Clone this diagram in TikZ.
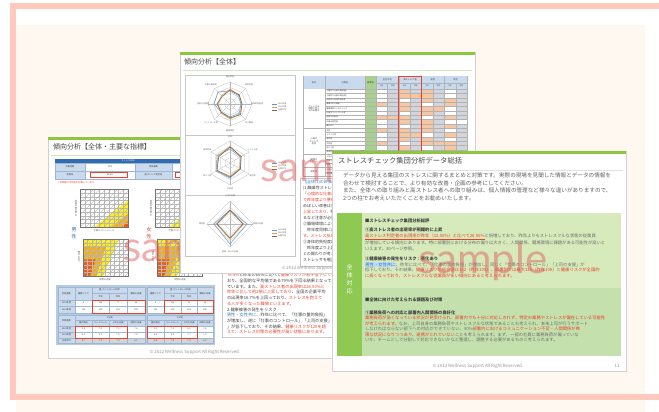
\documentclass[tikz,border=0pt]{standalone}
\usepackage{fontspec}
\setmainfont{Noto Sans CJK JP}
\newfontfamily\wmfont{Lato}
\usetikzlibrary{positioning}
\setlength{\fboxsep}{0.4pt}

\definecolor{framepink}{HTML}{FFCABD}
\definecolor{cream}{HTML}{FFF8F1}
\definecolor{pagegreen}{HTML}{8DC63F}
\definecolor{ruleline}{HTML}{D3E6BE}
\definecolor{boxlight}{HTML}{D7EABB}
\definecolor{boxdark}{HTML}{C4E1AD}
\definecolor{colgreen}{HTML}{8EC952}
\definecolor{txtgray}{HTML}{6E6E6E}
\definecolor{txtred}{HTML}{E8412C}
\definecolor{txtblue}{HTML}{2F75C0}
\definecolor{hlblue}{HTML}{BFDDF5}
\definecolor{hdrblue}{HTML}{C9DAEE}
\definecolor{bandblue}{HTML}{2E6DB4}
\definecolor{tabedge}{HTML}{9FB6CF}
\definecolor{tabback}{HTML}{B7CBE0}
\definecolor{cellw}{HTML}{FFFFFF}
\definecolor{cellg}{HTML}{D3D5DC}
\definecolor{cello}{HTML}{F7C6A2}
\definecolor{basegreen}{HTML}{A9D18E}
\definecolor{radblue}{HTML}{5B9BD5}
\definecolor{radoran}{HTML}{ED9E45}
\definecolor{radbrown}{HTML}{7A6652}
\definecolor{chyel}{HTML}{FFEF1A}
\definecolor{choran}{HTML}{FFB000}
\definecolor{chred}{HTML}{EE5A12}
\definecolor{wmred}{HTML}{E06060}

% stress distribution chart: grid and 45 degree lines
\newcommand{\chartgrid}[4]{%
  \begin{scope}
    \clip (#1,#2) rectangle (#3,#4);
    \foreach \k in {1,...,9}{
      \draw[gridline] ({#1+\k*(#3-#1)/10},#2) -- ({#1+\k*(#3-#1)/10},#4);
      \draw[gridline] (#1,{#2+\k*(#4-#2)/10}) -- (#3,{#2+\k*(#4-#2)/10});
    }
    \foreach \k in {-48,-42,...,48}
      \draw[diagline] ({#1+\k},#4) -- ++(60,-60);
  \end{scope}
  \draw[chartframe] (#1,#2) rectangle (#3,#4);}
% coloured bands, lower right corner
\newcommand{\fillbr}[4]{%
  \fill[chyel] (#3,{#2+0.3*(#4-#2)}) -- (#3,#4) -- ({#1+0.3*(#3-#1)},#4) -- cycle;
  \fill[choran] (#3,{#2+0.65*(#4-#2)}) -- (#3,#4) -- ({#1+0.65*(#3-#1)},#4) -- cycle;
  \fill[chred] (#3,{#2+0.87*(#4-#2)}) -- (#3,#4) -- ({#1+0.87*(#3-#1)},#4) -- cycle;}
% coloured bands, left side
\newcommand{\fillbl}[4]{%
  \fill[chyel] (#1,#2) -- ({#1+0.8*(#3-#1)},#2) -- ({#1+0.45*(#3-#1)},#4) -- (#1,#4) -- cycle;
  \fill[choran] (#1,{#2+0.22*(#4-#2)}) -- ({#1+0.5*(#3-#1)},{#2+0.22*(#4-#2)}) -- ({#1+0.3*(#3-#1)},#4) -- (#1,#4) -- cycle;
  \fill[chred] (#1,{#2+0.55*(#4-#2)}) -- ({#1+0.28*(#3-#1)},{#2+0.55*(#4-#2)}) -- ({#1+0.16*(#3-#1)},#4) -- (#1,#4) -- cycle;}
% radar web: centre x, centre y, axes, radius
\newcommand{\radarweb}[4]{%
  \begin{scope}[shift={(#1,#2)}]
    \foreach \s in {0.25,0.5,0.75,1}
      \draw[webline] (-90:{\s*#4}) \foreach \i in {1,...,#3}{ -- ({-90+\i*360/#3}:{\s*#4})};
    \foreach \i in {1,...,#3}
      \draw[webline] (0,0) -- ({-90+\i*360/#3}:#4);
  \end{scope}}
% radar data: centre x, centre y, axes, style, first value, other values
\newcommand{\radarline}[6]{%
  \draw[#4,shift={(#1,#2)}] (-90:#5) \foreach \v [count=\i] in {#6}{ -- ({-90+\i*360/#3}:\v)} -- cycle;}
% table cell with text
\newcommand{\tcell}[6]{%
  \draw[tabcell,fill=#5] (#1,#2) rectangle (#3,#4);
  \node[tabfont] (tc-#1-#2) at ({(#1+#3)/2},{(#2+#4)/2}) {#6};}

\begin{document}
\begin{tikzpicture}[x=1pt,y=-1pt,inner sep=0pt,outer sep=0pt,
  sheet/.style={fill=white,draw=black!18,line width=0.7pt},
  greenbar/.style={fill=pagegreen},
  titlerule/.style={draw=ruleline,line width=0.9pt},
  pagetitle/.style={anchor=west,font=\fontsize{7}{7}\selectfont,text=black!72},
  footer/.style={font=\fontsize{4.4}{4.4}\selectfont,text=black!42},
  watermark/.style={anchor=base west,font=\wmfont\fontsize{42}{42}\selectfont,text=wmred,text opacity=0.5},
  gridline/.style={draw=black!28,line width=0.2pt},
  diagline/.style={draw=black!35,line width=0.2pt},
  chartframe/.style={draw=black!55,line width=0.3pt},
  webline/.style={draw=black!28,line width=0.25pt},
  rlineA/.style={draw=radblue,line width=0.5pt},
  rlineB/.style={draw=radoran,line width=0.5pt},
  rlineC/.style={draw=radbrown,line width=0.6pt},
  tabcell/.style={draw=tabedge,line width=0.25pt},
  tabline/.style={draw=black!30,line width=0.2pt},
  redbox/.style={draw=txtred,line width=0.7pt},
  tiny/.style={font=\fontsize{2.3}{2.8}\selectfont,text=black!60},
  tabfont/.style={font=\fontsize{2.2}{2.2}\selectfont,text=black!75},
  leadtext/.style={anchor=north west,align=left,font=\fontsize{5.6}{7.5}\selectfont,text=black!62},
  boxtext/.style={anchor=north west,align=left,font=\fontsize{4.3}{5.5}\selectfont,text=txtgray},
  sidetext/.style={anchor=north west,align=left,font=\fontsize{4.2}{5.7}\selectfont,text=black!75}]

\useasboundingbox (0,0) rectangle (659,412);
\fill[white] (0,0) rectangle (659,412);
\fill[cream] (16,25) rectangle (645,412);
\fill[framepink] (10,3) rectangle (659,9);
\fill[framepink] (10,3) rectangle (16,400);
\fill[framepink] (10,394) rectangle (659,400);

%% page 1: main indicators
\draw[sheet] (48,137) rectangle (342,358);
\fill[greenbar] (48,137) rectangle (342,140);
\node[pagetitle] (title1) at (53,147) {傾向分析【全体・主要な指標】};
\draw[titlerule] (51,155) -- (339,155);

\fill[bandblue] (55,159) rectangle (335,163);
\node[tabfont,text=white] (band1) at (128,161) {ストレス分布};
\tcell{55}{163}{85}{171}{hdrblue}{対象者数}
\tcell{85}{163}{135}{171}{white}{2072}
\tcell{135}{163}{172}{171}{hdrblue}{受検者数}
\tcell{172}{163}{222}{171}{white}{1964}
\tcell{55}{171}{85}{179}{hdrblue}{受検率}
\tcell{85}{171}{135}{179}{white}{94.8\%}
\tcell{135}{171}{172}{179}{hdrblue}{高ストレス判定者}
\tcell{172}{171}{222}{179}{white}{26.5\%}
\draw[redbox] (90,172.5) rectangle (127,177.5);
\draw[redbox] (175,172.5) rectangle (215,177.5);
\node[tiny,text=txtred,anchor=west] (note1) at (57,182.5) {※ 評価値は平均値を記載しています};

\fillbr{80}{189}{128}{227}
\chartgrid{80}{189}{128}{227}
\fillbr{155}{189}{203}{227}
\chartgrid{155}{189}{203}{227}
\fillbl{83}{239}{128}{276}
\chartgrid{83}{239}{128}{276}
\fillbl{157}{239}{202}{276}
\chartgrid{157}{239}{202}{276}
\node[tiny,rotate=90] (ya1) at (76,208) {仕事の量的負担};
\node[tiny] (xa1) at (104,231) {仕事のコントロール};
\node[tiny,rotate=90] (ya2) at (151,208) {仕事の量的負担};
\node[tiny] (xa2) at (179,231) {仕事のコントロール};
\node[tiny,rotate=90] (ya3) at (79,257) {上司の支援};
\node[tiny] (xa3) at (105,280) {同僚の支援};
\node[tiny,rotate=90] (ya4) at (153,257) {上司の支援};
\node[tiny] (xa4) at (180,280) {同僚の支援};
\node[font=\fontsize{5}{6.5}\selectfont,text=txtblue,align=center] (male) at (74,233) {男\\性};
\node[font=\fontsize{5}{6.5}\selectfont,text=txtred,align=center] (female) at (149,233) {女\\性};

\fill[tabback] (56,285) rectangle (215,345);
\tcell{58}{287}{75}{300}{hdrblue}{判断基準}
\tcell{75}{287}{92}{300}{hdrblue}{健康リスク}
\tcell{92}{287}{127}{293}{hdrblue}{量-コントロール判定}
\tcell{92}{293}{109}{300}{hdrblue}{今年}
\tcell{109}{293}{127}{300}{hdrblue}{昨年}
\tcell{127}{287}{145}{300}{hdrblue}{職場の支援}
\tcell{58}{300}{75}{306}{hdrblue}{2022年度}
\tcell{75}{300}{92}{306}{white}{8}
\tcell{92}{300}{109}{306}{white}{108}
\tcell{109}{300}{127}{306}{white}{77}
\tcell{127}{300}{145}{306}{white}{58}
\tcell{58}{306}{75}{313}{hdrblue}{2021年度}
\tcell{75}{306}{92}{313}{white}{101}
\tcell{92}{306}{109}{313}{white}{100}
\tcell{109}{306}{127}{313}{white}{109}
\tcell{127}{306}{145}{313}{white}{105}
\tcell{147}{287}{164}{300}{hdrblue}{健康リスク}
\tcell{164}{287}{197}{293}{hdrblue}{量-コントロール判定}
\tcell{164}{293}{181}{300}{hdrblue}{今年}
\tcell{181}{293}{197}{300}{hdrblue}{昨年}
\tcell{197}{287}{213}{300}{hdrblue}{職場の支援}
\tcell{147}{300}{164}{306}{white}{8}
\tcell{164}{300}{181}{306}{white}{103}
\tcell{181}{300}{197}{306}{white}{93}
\tcell{197}{300}{213}{306}{white}{95}
\tcell{147}{306}{164}{313}{white}{101}
\tcell{164}{306}{181}{313}{white}{110}
\tcell{181}{306}{197}{313}{white}{104}
\tcell{197}{306}{213}{313}{white}{100}

\tcell{58}{315}{75}{326}{hdrblue}{判断基準}
\tcell{75}{315}{145}{320}{hdrblue}{F尺度}
\tcell{75}{320}{92}{326}{hdrblue}{量的負担}
\tcell{92}{320}{109}{326}{hdrblue}{コントロール}
\tcell{109}{320}{127}{326}{hdrblue}{上司の支援}
\tcell{127}{320}{145}{326}{hdrblue}{同僚の支援}
\tcell{58}{326}{75}{332}{hdrblue}{2022年度}
\tcell{75}{326}{92}{332}{white}{9.5}
\tcell{92}{326}{109}{332}{white}{7.3}
\tcell{109}{326}{127}{332}{white}{7.2}
\tcell{127}{326}{145}{332}{white}{7.6}
\tcell{58}{332}{75}{338}{hdrblue}{2021年度}
\tcell{75}{332}{92}{338}{white}{8.9}
\tcell{92}{332}{109}{338}{white}{8.1}
\tcell{109}{332}{127}{338}{white}{7.8}
\tcell{127}{332}{145}{338}{white}{7.5}
\tcell{58}{338}{75}{343}{hdrblue}{全国平均}
\tcell{75}{338}{92}{343}{cellg}{8.7}
\tcell{92}{338}{109}{343}{cellg}{7.9}
\tcell{109}{338}{127}{343}{cellg}{7.5}
\tcell{127}{338}{145}{343}{cellg}{8.1}
\tcell{147}{315}{213}{320}{hdrblue}{F尺度}
\tcell{147}{320}{164}{326}{hdrblue}{量的負担}
\tcell{164}{320}{181}{326}{hdrblue}{コントロール}
\tcell{181}{320}{197}{326}{hdrblue}{上司の支援}
\tcell{197}{320}{213}{326}{hdrblue}{同僚の支援}
\tcell{147}{326}{164}{332}{white}{9.2}
\tcell{164}{326}{181}{332}{white}{7.0}
\tcell{181}{326}{197}{332}{white}{6.9}
\tcell{197}{326}{213}{332}{white}{7.8}
\tcell{147}{332}{164}{338}{white}{8.6}
\tcell{164}{332}{181}{338}{white}{8.0}
\tcell{181}{332}{197}{338}{white}{7.7}
\tcell{197}{332}{213}{338}{white}{7.9}
\tcell{147}{338}{164}{343}{cellg}{8.4}
\tcell{164}{338}{181}{343}{cellg}{7.8}
\tcell{181}{338}{197}{343}{cellg}{7.4}
\tcell{197}{338}{213}{343}{cellg}{8.2}
\draw[redbox] (92,300) rectangle (145,313);
\draw[redbox] (164,300) rectangle (213,313);
\draw[redbox] (75,326) rectangle (127,338);
\draw[redbox] (147,326) rectangle (197,338);

\draw[black!22,line width=0.4pt] (222,265) rectangle (345,337);
\node[sidetext] (eval1) at (227,273.3) {%
\textcolor{txtred}{76.4\%}と昨年の80\%に比べて\textcolor{txtred}{健康リスクが若干低下している}\\
おり、全国的な平均値である79\%を下回る結果となって\\
ています。また、\textcolor{txtred}{高ストレス者の出現率は26.50\%と}\\
\textcolor{txtred}{昨年に比して約2倍に上昇しており}、全国の企業平均\\
の出現率16.7\%を上回っており、\textcolor{txtred}{ストレスを抱えて}\\
\textcolor{txtred}{る人が多くなった職場といえます。}\\
2.健康被害の発生をリスク\\
\textcolor{txtblue}{男性・女性共に}、昨年に比べて、「仕事の量的負担」\\
が増加し、逆に「仕事のコントロール」「上司の支援」\\
」が低下しており、その結果、\textcolor{txtred}{健康リスクが120を超}\\
\textcolor{txtred}{えて、ストレス対策の必要性が高い状態にあります。}};
\node[footer] (foot1) at (195,352) {© 2022 Wellness Support All Right Reserved.};
\node[watermark] (wm1) at (123,261) {sample};

%% page 2: overall trend
\draw[sheet] (180,52) rectangle (475,273);
\fill[greenbar] (180,52) rectangle (475,55);
\node[pagetitle] (title2) at (184,62) {傾向分析【全体】};
\draw[titlerule] (183,70) -- (472,70);
\draw[black!22,line width=0.4pt] (185,75) rectangle (295,256);
\draw[black!22,line width=0.4pt] (185,135) -- (295,135) (185,195) -- (295,195);

\radarweb{230}{104}{8}{22}
\radarline{230}{104}{8}{rlineA}{13}{12,11,13,13,12,16,17}
\radarline{230}{104}{8}{rlineB}{15}{13,12,14,15,13,12,12}
\radarline{230}{104}{8}{rlineC}{14}{13,12,15,14,12,13,11}
\begin{scope}[shift={(230,104)}]
  \foreach \lab [count=\i] in {量的負担,質的負担,身体的負担度,対人関係,職場環境,コントロール度,技能の活用度,仕事の適性度}
    \node[tiny,font=\fontsize{2}{2}\selectfont] (ra-\i) at ({-90+(\i-1)*45}:27) {\lab};
\end{scope}
\radarweb{230}{163}{6}{22}
\radarline{230}{163}{6}{rlineA}{14}{12,12,15,16,15}
\radarline{230}{163}{6}{rlineB}{17}{12,11,13,15,14}
\radarline{230}{163}{6}{rlineC}{16}{13,12,14,15,13}
\begin{scope}[shift={(230,163)}]
  \foreach \lab [count=\i] in {活気,イライラ感,疲労感,不安感,抑うつ感,身体愁訴}
    \node[tiny,font=\fontsize{2}{2}\selectfont] (rb-\i) at ({-90+(\i-1)*60}:26) {\lab};
\end{scope}
\radarweb{230}{224}{4}{23}
\radarline{230}{224}{4}{rlineA}{14}{17,20,16}
\radarline{230}{224}{4}{rlineB}{13}{14,15,14}
\radarline{230}{224}{4}{rlineC}{14}{13,14,13}
\begin{scope}[shift={(230,224)}]
  \foreach \lab [count=\i] in {上司の支援,同僚の支援,家族・友人の支援,満足度}
    \node[tiny,font=\fontsize{2}{2}\selectfont] (rc-\i) at ({-90+(\i-1)*90}:28) {\lab};
\end{scope}
\foreach \yy/\rn in {101/a,160/b,227/c}
  \foreach \c/\lab [count=\i] in {radblue/2021年度,radoran/2022年度,radbrown/全国平均}
    \draw[\c,line width=0.4pt] (272,{\yy+\i*3}) -- ++(5,0)
      node[tiny,font=\fontsize{2}{2}\selectfont,anchor=west,xshift=1pt] (leg\rn-\i) {\lab};

% scale table
\fill[hdrblue] (303,76) rectangle (467,89);
\fill[basegreen] (365,76) rectangle (376,176);
\foreach \cells [count=\r] in {{w,g,o,g,o,g,w,g},{w,g,o,o,o,g,w,g},{w,g,w,g,o,g,o,g},{o,g,o,g,w,g,o,g},
  {w,g,o,g,o,o,w,g},{w,g,w,g,o,g,w,g},{o,o,o,g,w,g,o,g},{w,g,o,g,o,g,w,w},{w,g,w,g,o,g,o,g},
  {o,g,o,g,o,g,w,g},{w,g,o,o,w,g,o,g},{w,g,o,g,o,g,w,g},{o,g,w,g,o,o,o,g},{w,g,o,g,w,g,o,g},
  {w,w,o,g,o,g,w,g},{o,g,o,g,o,g,o,g},{w,g,w,g,w,g,o,g},{w,g,o,g,o,g,w,g},{o,g,o,g,w,g,o,o},{w,g,o,g,o,g,w,g}}
  \foreach \c [count=\j] in \cells
    \fill[cell\c] ({376+(\j-1)*11.375},{89+(\r-1)*4.35}) rectangle ++(11.375,4.35);
\foreach \k in {0,...,20}
  \draw[tabline] (325,{89+\k*4.35}) -- (467,{89+\k*4.35});
\foreach \xx in {303,325,365,376,398.75,421.5,444.25,467}
  \draw[tabline] (\xx,76) -- (\xx,176);
\foreach \xx in {387.375,410.125,432.875,455.625}
  \draw[tabline] (\xx,83) -- (\xx,176);
\draw[tabline] (376,83) -- (467,83) (303,128.15) -- (325,128.15) (303,154.25) -- (325,154.25)
  (303,167.3) -- (325,167.3) (303,176) -- (325,176);
\draw[txtred,line width=0.6pt] (398.75,76) -- (398.75,176) (421.5,76) -- (421.5,176) (398.75,76) -- (421.5,76);
\node[tabfont] (hc1) at (314,82.5) {区分};
\node[tabfont] (hc2) at (345,82.5) {尺度名};
\node[tabfont] (hc3) at (370.5,82.5) {基準値};
\foreach \xx/\lab [count=\i] in {387.375/全社平均,410.125/高ストレス者,432.875/男性,455.625/女性}{
  \node[tabfont] (hg-\i) at (\xx,79.5) {\lab};
  \node[tabfont,font=\fontsize{1.8}{1.8}\selectfont] (hs-\i) at ({\xx-5.69},86) {今年};
  \node[tabfont,font=\fontsize{1.8}{1.8}\selectfont] (ht-\i) at ({\xx+5.69},86) {昨年};
}
\node[tabfont,align=center] (grp1) at (314,108.6) {ストレスの\\原因と考え\\られる因子};
\node[tabfont,align=center] (grp2) at (314,141.2) {心身の\\ストレス\\反応};
\node[tabfont,align=center] (grp3) at (314,160.8) {周囲の\\サポート};
\node[tabfont] (grp4) at (314,171.6) {満足度};
\foreach \lab [count=\r] in {{心理的な仕事の負担(量)},{心理的な仕事の負担(質)},{自覚的な身体的負担度},{職場の対人関係},{職場環境によるストレス},{仕事のコントロール度},{技能の活用度},{仕事の適性度},{働きがい},{活気},{イライラ感},{疲労感},{不安感},{抑うつ感},{身体愁訴},{上司からのサポート},{同僚からのサポート},{家族・友人からのサポート},{仕事や生活の満足度},{総合健康リスク}}
  \node[tabfont,font=\fontsize{1.9}{1.9}\selectfont,anchor=west] (row-\r) at (326.5,{89+(\r-0.5)*4.35}) {\lab};

\draw[black!22,line width=0.4pt] (300,178) rectangle (470,266);
\node[sidetext,font=\fontsize{4}{6}\selectfont] (eval2) at (303,180.5) {%
\textcolor{txtblue}{【全体(1)の評価】昨年度との比較}\\
(1)職業性ストレス要因では、昨年度と比べて\\
\textcolor{txtred}{「心理的な仕事の負担(量)」が高く}\\
\textcolor{txtred}{で昨年度より悪化しています。}\\
めぼしい改善は見られず、ストレス要因は\\
\textcolor{txtred}{上昇しており、}特に量的負担が高くなってい\\
るなど注意が必要です。\\
②職場環境によるストレスについても\\
\quad 昨年度同様に高い状態となっていま\\
\textcolor{txtred}{す。ストレス反応への影響が懸念されます。}\\
③身体的負担度についても\\
\quad 昨年度より上昇しており、職場環境\\
との関わりが考えられます。今後は\\
ストレッサを軽減する取り組みが必要です。};
\node[footer] (foot2) at (327,268) {© 2022 Wellness Support All Right Reserved.};
\node[watermark] (wm2) at (260,181) {sample};

%% page 3: summary
\draw[sheet] (332,151) rectangle (626,371);
\fill[greenbar] (332,151) rectangle (626,154);
\node[pagetitle,font=\fontsize{7.3}{7.3}\selectfont] (title3) at (338,161) {ストレスチェック集団分析データ総括};
\draw[titlerule,draw=black!12] (335,170) -- (623,170);
\node[leadtext] (lead3) at (343,173) {%
データから見える集団のストレスに関するまとめと対策です。実際の現場を見聞した情報とデータの情報を\\
合わせて検討することで、より有効な改善・企画の参考にしてください。\\
また、全体への取り組みと高ストレス者への取り組みは、個人情報の管理など様々な違いがありますので、\\
2つの柱でお考えいただくことをお勧めいたします。};

\fill[boxlight] (337,213) rectangle (621,288);
\fill[boxdark] (337,288) rectangle (621,356);
\fill[colgreen] (337,213) rectangle (362,356);
\node[font=\fontsize{6}{8}\selectfont,text=white,align=center] (side3) at (349.5,279) {全\\体\\対\\応};

\node[boxtext] (sum3) at (365,218.8) {%
\textcolor{black!75}{\bfseries ■ストレスチェック集団分析総評}\\[4pt]
\textcolor{black!75}{\bfseries ①高ストレス者の出現率が飛躍的に上昇}\\
\textcolor{txtred}{\underline{高ストレス判定者の出現率が昨年（12.50\%）と比べて26.50\%}}と倍増しており、昨年よりもストレスフルな状態の従業員\\
が増加している傾向にあります。特に部署別における分布の偏りは大きく、人間関係、職場環境に課題がある可能性が高いと\\
いえます。30ページ参照。\\[5pt]
\textcolor{black!75}{\bfseries ②健康被害の発生をリスク：悪化あり}\\
\colorbox{hlblue}{\textcolor{txtblue}{男性・女性共に}}、昨年に比べて、「仕事の量的負担」が増加し、同じく「仕事のコントロール」「上司の支援」が\\
低下しており、その結果、\textcolor{txtred}{健康リスクの総合値は112（昨年105）、部署別では最大125（昨年109）}と\textcolor{txtred}{健康リスクが全国的}\\
\textcolor{txtred}{に高くなっており、ストレスフルな従業員が多い傾向にあると考えられます。}};

\node[boxtext] (plan3) at (365,297.8) {%
\textcolor{black!75}{\bfseries ■全体に向けた考えられる課題及び対策}\\[7pt]
\textcolor{black!75}{\bfseries ①業務負荷への対応と部署内人間関係の良好化}\\
\textcolor{txtred}{業務負荷が高くなっている状況が見受けられ、部署内でも十分に対応しきれず、特定の業務やストレスが偏在している可能性}\\
\textcolor{txtred}{が考えられます。}なお、上司自身の業務負荷やストレスフルな状態であることも考えられ、本来上司が行うサポート\\
しなければならない部下への対応ができていない、30\%\textcolor{txtred}{部署内におけるコミュニケーション不足・人間関係が希}\\
\textcolor{txtred}{薄な状況になりつつあり、連携がとれていない}ことも考えられます。まず、一部の社員に業務負荷が偏っていな\\
いか、チームとして分割して対応できないかなど整理し、調整する必要があるものと考えられます。};

\node[footer] (foot3) at (478,366) {© 2022 Wellness Support All Right Reserved.};
\node[footer] (pno3) at (617,366) {11};
\node[watermark] (wm3) at (418,273) {sample};
\end{tikzpicture}
\end{document}
